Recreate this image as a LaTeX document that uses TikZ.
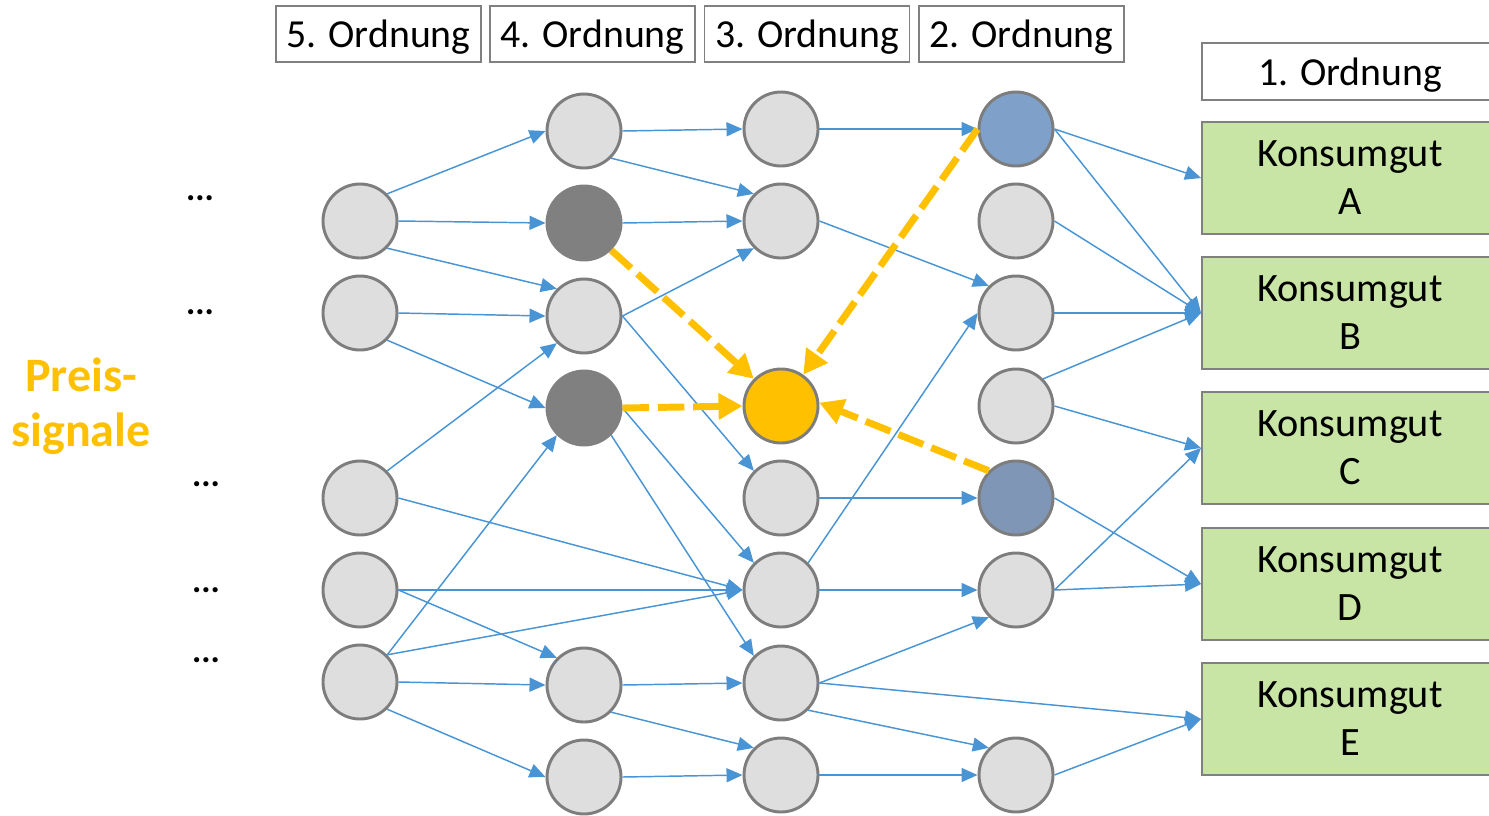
\documentclass[tikz,border=0pt]{standalone}
\usepackage{fontspec}
\setmainfont{Carlito}
\usetikzlibrary{arrows.meta}
\definecolor{edgeblue}{RGB}{72,148,212}
\definecolor{nodegray}{RGB}{125,125,125}
\definecolor{lightnode}{RGB}{222,222,222}
\definecolor{darknode}{RGB}{128,128,128}
\definecolor{bluenode}{RGB}{127,161,201}
\definecolor{slatenode}{RGB}{127,150,183}
\definecolor{sigyellow}{RGB}{255,192,0}
\definecolor{goodgreen}{RGB}{200,229,165}
\definecolor{boxgray}{RGB}{128,128,128}
\begin{document}
\begin{tikzpicture}[x=0.75pt,y=-0.75pt,
  nd/.style={circle, draw=nodegray, line width=2.2pt, fill=lightnode, minimum size=55.5pt, inner sep=0pt},
  darknd/.style={nd, fill=darknode, draw=darknode},
  bluend/.style={nd, fill=bluenode},
  slatend/.style={nd, fill=slatenode},
  yelnd/.style={nd, fill=sigyellow},
  hdr/.style={draw=boxgray, line width=1.4pt, fill=white, minimum width=153.75pt, minimum height=42pt, inner sep=0pt, text depth=0pt, font=\fontsize{29.8}{35}\selectfont},
  goodbox/.style={draw=boxgray, line width=1.4pt, fill=goodgreen, minimum width=222pt, minimum height=84pt, inner sep=0pt, align=center, font=\fontsize{30.2}{36}\selectfont},
  edge/.style={draw=edgeblue, line width=1.1pt, -{Triangle[length=12pt,width=10.5pt]}},
  sig/.style={draw=sigyellow, line width=5.2pt, dash pattern=on 20pt off 6.5pt, -{Triangle[length=18pt,width=19pt]}},
  dotsnode/.style={font=\bfseries\fontsize{26}{30}\selectfont, inner sep=0pt, anchor=base}
]
\useasboundingbox (0,0) rectangle (1489,815);

% header boxes
\node[hdr] (h5) at (378.5,34) {5. Ordnung};
\node[hdr] (h4) at (592.5,34) {4. Ordnung};
\node[hdr] (h3) at (807,34) {3. Ordnung};
\node[hdr] (h2) at (1021.5,34) {2. Ordnung};
\node[hdr, minimum width=222pt, minimum height=42.75pt] (h1) at (1350,71.5) {1. Ordnung};

% goods
\node[goodbox] (kA) at (1350,178) {Konsumgut\\A};
\node[goodbox] (kB) at (1350,313) {Konsumgut\\B};
\node[goodbox] (kC) at (1350,448) {Konsumgut\\C};
\node[goodbox] (kD) at (1350,584) {Konsumgut\\D};
\node[goodbox] (kE) at (1350,719) {Konsumgut\\E};

% left labels
\node[font=\bfseries\fontsize{36}{41}\selectfont, text=sigyellow, align=center, inner sep=0pt] (preis) at (81,406) {Preis-\\signale};
\node[dotsnode] (d1) at (200,200.5) {...};
\node[dotsnode] (d2) at (200,314.5) {...};
\node[dotsnode] (d3) at (206,486.5) {...};
\node[dotsnode] (d4) at (206,592.5) {...};
\node[dotsnode] (d5) at (206,662.5) {...};

% column 5
\node[nd] (c5a) at (360,221) {};
\node[nd] (c5b) at (360,313) {};
\node[nd] (c5c) at (360,498) {};
\node[nd] (c5d) at (360,590) {};
\node[nd] (c5e) at (360,682) {};
% column 4
\node[nd] (c4a) at (584,131) {};
\node[darknd] (c4b) at (584,223) {};
\node[nd] (c4c) at (584,316) {};
\node[darknd] (c4d) at (584,408) {};
\node[nd] (c4e) at (584,685) {};
\node[nd] (c4f) at (584,777) {};
% column 3
\node[nd] (c3a) at (781,129) {};
\node[nd] (c3b) at (781,221) {};
\node[yelnd] (c3y) at (781,406) {};
\node[nd] (c3d) at (781,498) {};
\node[nd] (c3e) at (781,590) {};
\node[nd] (c3f) at (781,683) {};
\node[nd] (c3g) at (781,775) {};
% column 2
\node[bluend] (c2a) at (1016,129) {};
\node[nd] (c2b) at (1016,221) {};
\node[nd] (c2c) at (1016,313) {};
\node[nd] (c2d) at (1016,406) {};
\node[slatend] (c2e) at (1016,498) {};
\node[nd] (c2f) at (1016,590) {};
\node[nd] (c2g) at (1016,775) {};

% 5 -> 4/3
\draw[edge] (c5a.north east) -- (c4a.west);
\draw[edge] (c5a.east) -- (c4b.west);
\draw[edge] (c5a.south east) -- (c4c.north west);
\draw[edge] (c5b.east) -- (c4c.west);
\draw[edge] (c5b.south east) -- (c4d.west);
\draw[edge] (c5c.north east) -- (c4c.south west);
\draw[edge] (c5c.east) -- (c3e.west);
\draw[edge] (c5d.east) -- (c3e.west);
\draw[edge] (c5d.east) -- (c4e.north west);
\draw[edge] (c5e.north east) -- (c4d.south west);
\draw[edge] (c5e.north east) -- (c3e.west);
\draw[edge] (c5e.east) -- (c4e.west);
\draw[edge] (c5e.south east) -- (c4f.west);

% 4 -> 3
\draw[edge] (c4a.east) -- (c3a.west);
\draw[edge] (c4a.south east) -- (c3b.north west);
\draw[edge] (c4b.east) -- (c3b.west);
\draw[edge] (c4c.east) -- (c3b.south west);
\draw[edge] (c4c.east) -- (c3d.north west);
\draw[edge] (c4d.east) -- (c3e.north west);
\draw[edge] (c4d.south east) -- (c3f.north west);
\draw[edge] (c4e.east) -- (c3f.west);
\draw[edge] (c4e.south east) -- (c3g.north west);
\draw[edge] (c4f.east) -- (c3g.west);

% 3 -> 2 / goods
\draw[edge] (c3a.east) -- (c2a.west);
\draw[edge] (c3b.east) -- (c2c.north west);
\draw[edge] (c3d.east) -- (c2e.west);
\draw[edge] (c3e.north east) -- (c2c.west);
\draw[edge] (c3e.east) -- (c2f.west);
\draw[edge] (c3f.east) -- (c2f.south west);
\draw[edge] (c3f.east) -- (kE.west);
\draw[edge] (c3f.south east) -- (c2g.north west);
\draw[edge] (c3g.east) -- (c2g.west);

% 2 -> goods
\draw[edge] (c2a.east) -- (kA.west);
\draw[edge] (c2a.east) -- (kB.west);
\draw[edge] (c2b.east) -- (kB.west);
\draw[edge] (c2c.east) -- (kB.west);
\draw[edge] (c2d.north east) -- (kB.west);
\draw[edge] (c2d.east) -- (kC.west);
\draw[edge] (c2e.east) -- (kD.west);
\draw[edge] (c2f.east) -- (kC.west);
\draw[edge] (c2f.east) -- (kD.west);
\draw[edge] (c2g.east) -- (kE.west);

% price signals
\draw[sig] (c4b.south east) -- (c3y.north west);
\draw[sig] (c4d.east) -- (c3y.west);
\draw[sig] (c2a.west) -- (c3y);
\draw[sig] (c2e.north west) -- (c3y.5);
\end{tikzpicture}
\end{document}
